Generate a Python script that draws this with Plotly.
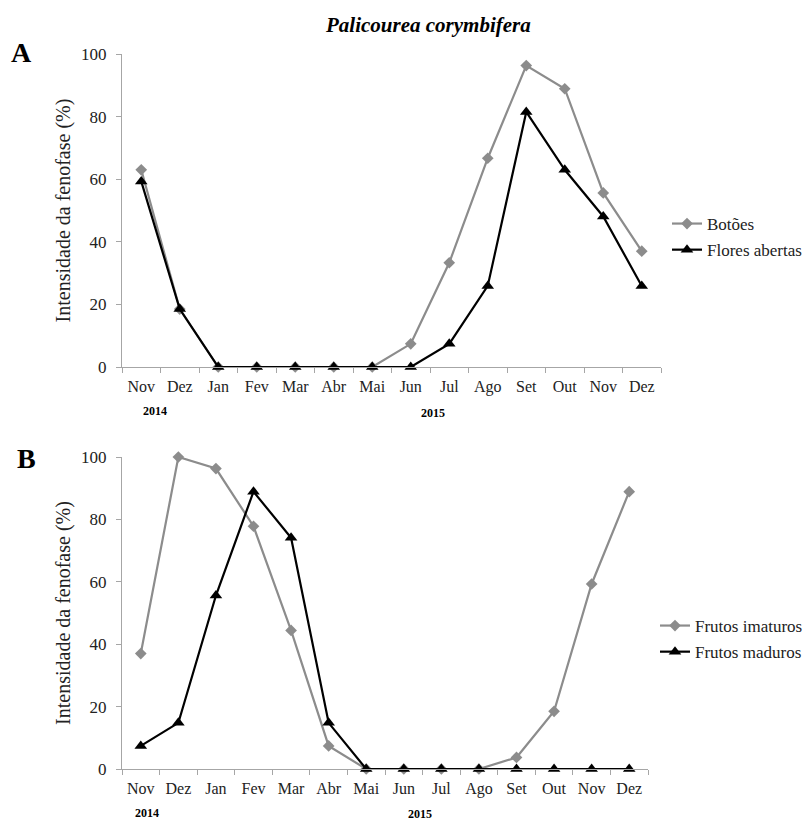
import plotly.graph_objects as go

months = ["Nov", "Dez", "Jan", "Fev", "Mar", "Abr", "Mai", "Jun", "Jul", "Ago", "Set", "Out", "Nov", "Dez"]
cats = [f"{m}_{i}" for i, m in enumerate(months)]

botoes = [63.0, 18.5, 0, 0, 0, 0, 0, 7.4, 33.3, 66.7, 96.3, 88.9, 55.6, 37.0]
flores_abertas = [59.3, 18.5, 0, 0, 0, 0, 0, 0, 7.4, 25.9, 81.5, 63.0, 48.1, 25.9]
frutos_imaturos = [37.0, 100.0, 96.3, 77.8, 44.4, 7.4, 0, 0, 0, 0, 3.7, 18.5, 59.3, 88.9]
frutos_maduros = [7.4, 14.8, 55.6, 88.9, 74.1, 14.8, 0, 0, 0, 0, 0, 0, 0, 0]

W, H = 806, 823
FONT = "Liberation Serif"
GRAY = "#8c8c8c"
AXC = "#a6a6a6"

def px_x(p):
    return p / W

def px_y(p):
    return 1 - p / H

fig = go.Figure()

def add_series(y, name, color, symbol, size, xa, ya, legend):
    fig.add_trace(go.Scatter(
        x=cats, y=y, name=name, mode="lines+markers",
        line=dict(color=color, width=2.2),
        marker=dict(symbol=symbol, size=size, color=color),
        xaxis=xa, yaxis=ya, legend=legend, legendgroup=name, cliponaxis=False,
    ))

add_series(botoes, "Botões", GRAY, "diamond", 9, "x", "y", "legend")
add_series(flores_abertas, "Flores abertas", "#000000", "triangle-up", 11, "x", "y", "legend")
add_series(frutos_imaturos, "Frutos imaturos", GRAY, "diamond", 9, "x2", "y2", "legend2")
add_series(frutos_maduros, "Frutos maduros", "#000000", "triangle-up", 11, "x2", "y2", "legend2")

xcommon = dict(
    type="category", range=[-0.5, 13.5], tickmode="array", tickvals=cats, ticktext=months,
    tickson="boundaries", ticks="outside", ticklen=5, tickcolor=AXC, showline=True,
    linecolor=AXC, linewidth=1.3, showgrid=False, zeroline=False, automargin=False,
    ticklabelstandoff=5,
    tickfont=dict(family=FONT, size=16, color="#222"), fixedrange=True,
)
ycommon = dict(
    range=[0, 100], tickvals=[0, 20, 40, 60, 80, 100], ticks="outside", ticklen=5,
    tickcolor=AXC, showline=True, linecolor=AXC, linewidth=1.3, showgrid=False,
    zeroline=False, automargin=False, tickfont=dict(family=FONT, size=17, color="#222"),
    ticklabelstandoff=6,
    title=dict(text="Intensidade da fenofase (%)", font=dict(family=FONT, size=20, color="#222"), standoff=4),
)

legcommon = dict(xanchor="left", yanchor="middle", bgcolor="rgba(0,0,0,0)",
                 font=dict(family=FONT, size=17, color="#222"), itemwidth=30,
                 tracegroupgap=1)

fig.update_layout(
    width=W, height=H, margin=dict(l=0, r=0, t=0, b=0, autoexpand=False),
    plot_bgcolor="white", paper_bgcolor="white", showlegend=True,
    font=dict(family=FONT),
    xaxis=dict(xcommon, domain=[px_x(122), px_x(661)], anchor="y"),
    yaxis=dict(ycommon, domain=[px_y(367), px_y(54)], anchor="x"),
    xaxis2=dict(xcommon, domain=[px_x(122), px_x(648)], anchor="y2"),
    yaxis2=dict(ycommon, domain=[px_y(769), px_y(457)], anchor="x2"),
    legend=dict(legcommon, x=px_x(667), y=px_y(237)),
    legend2=dict(legcommon, x=px_x(655), y=px_y(639)),
)

annots = [
    dict(text="<b><i>Palicourea corymbifera</i></b>", x=px_x(428), y=px_y(25), size=21),
    dict(text="<b>A</b>", x=px_x(21), y=px_y(53), size=28),
    dict(text="<b>B</b>", x=px_x(26), y=px_y(458), size=28),
    dict(text="<b>2014</b>", x=px_x(155), y=px_y(411), size=12),
    dict(text="<b>2015</b>", x=px_x(433), y=px_y(413), size=12),
    dict(text="<b>2014</b>", x=px_x(147), y=px_y(813), size=12),
    dict(text="<b>2015</b>", x=px_x(420), y=px_y(814), size=12),
]
for a in annots:
    fig.add_annotation(text=a["text"], x=a["x"], y=a["y"], xref="paper", yref="paper",
                       showarrow=False, xanchor="center", yanchor="middle",
                       font=dict(family=FONT, size=a["size"], color="#000"))

fig.write_html("out.html")
